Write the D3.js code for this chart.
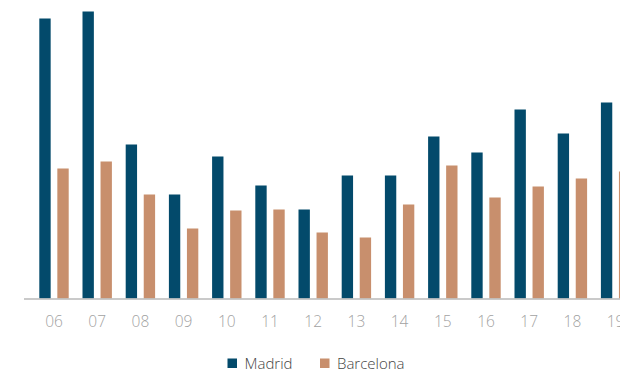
<!DOCTYPE html>
<html>
<head>
<meta charset="utf-8">
<script src="https://cdn.jsdelivr.net/npm/d3@7"></script>
<style>
  body { margin: 0; background: #fff; }
  svg { display: block; font-family: "Open Sans", sans-serif; }
  .tick-label { fill: #a2a2a2; font-size: 15.5px; font-weight: 300; }
  .legend-label { fill: #444; font-size: 15px; font-weight: 300; }
</style>
</head>
<body>
<div id="chart"></div>
<script>
const years = ["06", "07", "08", "09", "10", "11", "12", "13", "14", "15", "16", "17", "18", "19"];
const madrid = [280, 287, 154, 104, 142, 113, 89, 123, 123, 162, 146, 189, 165, 196];
const barcelona = [130, 137, 104, 70, 88, 89, 66, 61, 94, 133, 101, 112, 120, 127];
const seriesNames = ["Madrid", "Barcelona"];
const colours = ["#034a6b", "#c88f6d"];

const width = 620, height = 374;
const baseline = 298.5;

const svg = d3.select("#chart").append("svg")
    .attr("width", width)
    .attr("height", height);

const step = 43.2;
const x = d3.scaleBand()
    .domain(years)
    .range([32.4, 32.4 + step * years.length])
    .padding(0);

const sub = d3.scaleBand()
    .domain(seriesNames)
    .range([6.9, 36.3])
    .paddingInner(0.37);

const y = d3.scaleLinear()
    .domain([0, 298])
    .range([baseline, baseline - 298]);

const rows = years.map((yr, i) => ({year: yr, values: [madrid[i], barcelona[i]]}));

const groups = svg.append("g")
    .selectAll("g")
    .data(rows)
    .enter().append("g")
    .attr("transform", d => "translate(" + x(d.year) + ",0)");

groups.selectAll("rect")
    .data(d => d.values.map((v, j) => ({name: seriesNames[j], value: v, c: colours[j]})))
    .enter().append("rect")
    .attr("x", d => sub(d.name))
    .attr("width", sub.bandwidth())
    .attr("y", d => y(d.value))
    .attr("height", d => y(0) - y(d.value))
    .style("fill", d => d.c);

// axis line
svg.append("line")
    .attr("x1", 24)
    .attr("x2", width)
    .attr("y1", baseline + 0.5)
    .attr("y2", baseline + 0.5)
    .style("stroke", "#b8b8b8")
    .style("stroke-width", 1.5);

svg.append("g")
    .selectAll("text")
    .data(years)
    .enter().append("text")
    .attr("class", "tick-label")
    .attr("x", d => x(d) + x.bandwidth() / 2)
    .attr("y", 327)
    .attr("text-anchor", "middle")
    .text(d => d);

// legend
const legend = svg.append("g");
const legendX = [227.5, 320];
seriesNames.forEach((name, i) => {
    legend.append("rect")
        .attr("x", legendX[i])
        .attr("y", 358.5)
        .attr("width", 9.5)
        .attr("height", 9.5)
        .style("fill", colours[i]);
    legend.append("text")
        .attr("class", "legend-label")
        .attr("x", legendX[i] + 17)
        .attr("y", 368.5)
        .text(name);
});
</script>
</body>
</html>
